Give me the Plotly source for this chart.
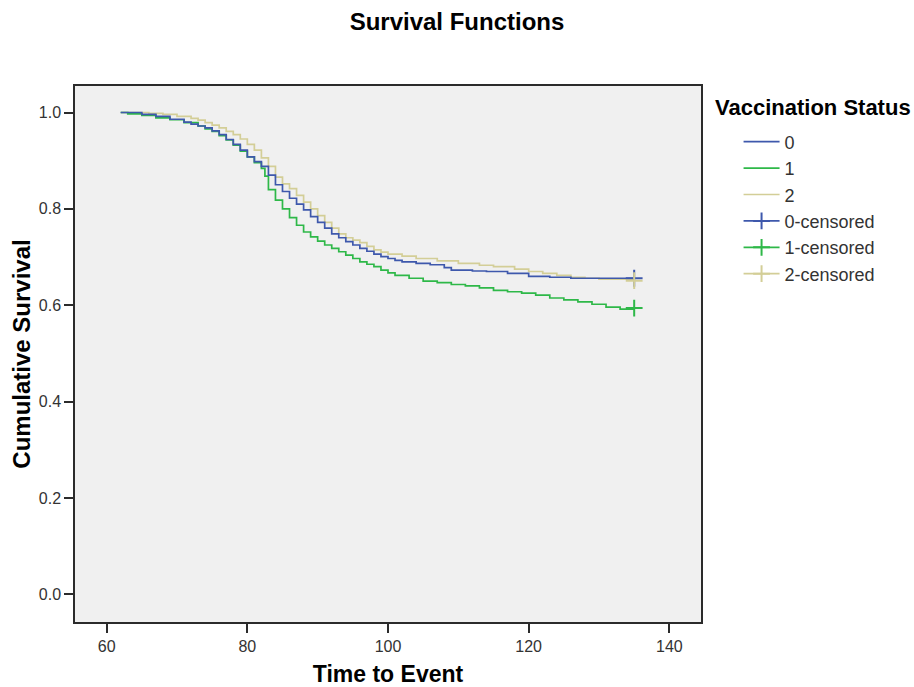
import plotly.graph_objects as go

# ---- data ----
groups = ["0", "1", "2"]

time_0 = [62, 64, 65, 67, 69, 71, 72, 73, 74, 75, 76, 77, 78, 79, 80, 81, 82, 83, 84, 85, 86, 87, 88, 89, 90,
          91, 92, 93, 94, 95, 96, 97, 98, 99, 100, 101, 102, 104, 106, 108, 109, 112, 114, 117, 120, 123, 126, 135]
surv_0 = [1.000, 1.000, 0.996, 0.992, 0.986, 0.980, 0.976, 0.972, 0.968, 0.962, 0.954, 0.944, 0.934, 0.922, 0.908,
          0.898, 0.888, 0.870, 0.850, 0.836, 0.822, 0.810, 0.798, 0.784, 0.772, 0.760, 0.748, 0.740, 0.732, 0.725,
          0.718, 0.712, 0.706, 0.701, 0.697, 0.693, 0.690, 0.687, 0.684, 0.678, 0.673, 0.671, 0.670, 0.666, 0.660,
          0.658, 0.656, 0.656]

time_1 = [62, 63, 65, 67, 69, 71, 73, 74, 75, 76, 77, 78, 79, 80, 81, 82, 82.5, 83, 84, 85, 86, 87, 88, 89, 90,
          91, 92, 93, 94, 95, 96, 97, 98, 99, 100, 101, 103, 105, 107, 109, 111, 113, 115, 117, 119, 121, 123, 125,
          127, 129, 131, 133, 135]
surv_1 = [1.000, 0.997, 0.994, 0.989, 0.985, 0.979, 0.972, 0.966, 0.961, 0.952, 0.943, 0.932, 0.920, 0.908, 0.896,
          0.884, 0.868, 0.840, 0.818, 0.800, 0.782, 0.766, 0.752, 0.742, 0.733, 0.725, 0.718, 0.711, 0.704, 0.697,
          0.690, 0.685, 0.680, 0.673, 0.667, 0.662, 0.656, 0.650, 0.647, 0.643, 0.640, 0.636, 0.631, 0.628, 0.625,
          0.621, 0.615, 0.611, 0.607, 0.602, 0.596, 0.592, 0.592]

time_2 = [62, 66, 68, 70, 72, 73, 74, 75, 76, 77, 78, 79, 80, 81, 82, 83, 84, 85, 86, 87, 88, 89, 90, 91, 92, 93,
          94, 95, 96, 97, 98, 99, 100, 102, 104, 107, 110, 113, 115, 118, 120, 122, 124, 126, 128, 130, 135]
surv_2 = [1.000, 0.998, 0.996, 0.992, 0.988, 0.984, 0.979, 0.974, 0.968, 0.961, 0.954, 0.945, 0.934, 0.922, 0.906,
          0.888, 0.866, 0.852, 0.842, 0.828, 0.814, 0.800, 0.786, 0.772, 0.760, 0.748, 0.740, 0.735, 0.730, 0.722,
          0.715, 0.710, 0.706, 0.702, 0.697, 0.692, 0.687, 0.683, 0.680, 0.675, 0.670, 0.666, 0.662, 0.658, 0.656,
          0.654, 0.651]

censor_time = [135, 135, 135]
censor_surv = [0.656, 0.594, 0.651]

x_ticks = [60, 80, 100, 120, 140]
y_ticks = [0.0, 0.2, 0.4, 0.6, 0.8, 1.0]

colors = ["#3E58AC", "#2EB848", "#D3CE97"]
FONT = "Liberation Sans, Arial, sans-serif"

times = [time_0, time_1, time_2]
survs = [surv_0, surv_1, surv_2]

fig = go.Figure()
draw_order = [2, 1, 0]
for i in draw_order:
    fig.add_trace(go.Scatter(
        x=times[i], y=survs[i], mode="lines", line=dict(color=colors[i], width=1.7, shape="hv"),
        name=groups[i], legendgroup=groups[i], legendrank=i + 1, hoverinfo="skip"))
for i in range(3):
    fig.add_trace(go.Scatter(
        x=[censor_time[i]], y=[censor_surv[i]], mode="lines+markers",
        line=dict(color=colors[i], width=1.7),
        marker=dict(symbol="cross-thin", size=12, line=dict(color=colors[i], width=2)),
        name=groups[i] + "-censored", legendgroup=groups[i] + "c", legendrank=4 + i, hoverinfo="skip"))

axis_common = dict(showline=True, linecolor="#2b2b2b", linewidth=1.5, mirror=True, showgrid=False,
                   zeroline=False, ticks="outside", ticklen=9, tickwidth=1.5, tickcolor="#2b2b2b",
                   tickfont=dict(family=FONT, size=16, color="#333333"), automargin=False)

fig.update_layout(
    width=914, height=687,
    margin=dict(l=75, r=213, t=86, b=65),
    paper_bgcolor="white", plot_bgcolor="#F0F0F0",
    font=dict(family=FONT, color="black"),
    title=dict(text="<b>Survival Functions</b>", font=dict(family=FONT, size=24, color="black"),
               x=0.5, xref="container", xanchor="center", y=1 - 22 / 687, yref="container", yanchor="middle"),
    xaxis=dict(range=[55.5, 144.5], tickvals=x_ticks, ticktext=[str(v) for v in x_ticks],
               title=dict(text="<b>Time to Event</b>", font=dict(family=FONT, size=23, color="black"),
                          standoff=16), **axis_common),
    yaxis=dict(range=[-0.0575, 1.055], tickvals=y_ticks, ticktext=[f"{v:.1f}" for v in y_ticks],
               title=dict(text="<b>Cumulative Survival</b>", font=dict(family=FONT, size=24, color="black"),
                          standoff=1), **axis_common),
    legend=dict(x=1.06, xanchor="left", y=0.930, yanchor="top", traceorder="grouped",
                tracegroupgap=0, itemwidth=36, bgcolor="rgba(0,0,0,0)",
                font=dict(family=FONT, size=18, color="#333333")),
    annotations=[dict(text="<b>Vaccination Status</b>", xref="paper", yref="paper",
                      x=(713 - 75) / 626, y=1 - (108 - 86) / 536, xanchor="left", yanchor="middle",
                      showarrow=False, font=dict(family=FONT, size=22, color="black"))],
)

fig.write_html("out.html", config={"displayModeBar": False},
               post_script="document.body.style.margin='0';")
